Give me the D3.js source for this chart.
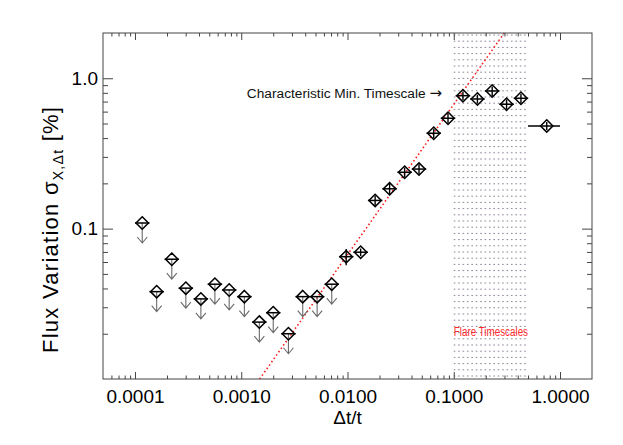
<!DOCTYPE html>
<html><head><meta charset="utf-8">
<script src="https://cdn.jsdelivr.net/npm/d3@7"></script>
<style>body{margin:0;background:#fff}text{font-family:"Liberation Sans",Arial,Helvetica,sans-serif}</style>
</head><body>
<svg id="c" width="623" height="445"></svg>
<script>
// ---- data ----
const dt = [1.17e-4,1.60e-4,2.22e-4,3.01e-4,4.17e-4,5.65e-4,7.70e-4,1.07e-3,1.48e-3,2.00e-3,2.78e-3,3.79e-3,5.18e-3,7.11e-3,
            9.72e-3,1.33e-2,1.82e-2,2.49e-2,3.45e-2,4.71e-2,6.48e-2,8.83e-2,0.122,0.167,0.230,0.314,0.429,0.75];
const sigma = [0.109,0.0381,0.0626,0.0402,0.0341,0.0427,0.0391,0.0353,0.0239,0.0276,0.0200,0.0353,0.0353,0.0427,
               0.0651,0.0697,0.154,0.184,0.237,0.249,0.431,0.542,0.766,0.728,0.823,0.672,0.736,0.482];
const sigmaErr = [0,0,0,0,0,0,0,0,0,0,0,0,0,0,
                  0.008,0.004,0.012,0.014,0.018,0.019,0.030,0.040,0.050,0.050,0.060,0.050,0.050,0.030];
const upperLimit = [1,1,1,1,1,1,1,1,1,1,1,1,1,1, 0,0,0,0,0,0,0,0,0,0,0,0,0,0];
const binFactor = 1.17;            // half-bin width (multiplicative)
const lastBin = [0.5, 1.0];         // wide final bin
const fitX = [0.00149, 0.2986];     // red dotted power-law (slope 1)
const fitY = [0.01, 2.0];
const flareRange = [0.1, 0.5];
const xTickVals = [1e-4, 1e-3, 1e-2, 1e-1, 1];
const xTickLabels = ["0.0001","0.0010","0.0100","0.1000","1.0000"];
const yTickVals = [0.1, 1.0];
const yTickLabels = ["0.1","1.0"];

// ---- layout ----
const L = 103, R = 592, T = 33, B = 379;
const svg = d3.select("#c");
const x = d3.scaleLog().domain([5e-5, 2]).range([L, R]);
const y = d3.scaleLog().domain([0.01, 2]).range([B, T]);

const xMinor = [], yMinor = [];
for (let e = -5; e <= 0; e++) for (let k = 2; k <= 9; k++) { const v = k * Math.pow(10, e); if (v > 5e-5 && v < 2) xMinor.push(v); }
for (let e = -2; e <= 0; e++) for (let k = 2; k <= 9; k++) { const v = k * Math.pow(10, e); if (v > 0.01 && v < 2) yMinor.push(v); }

svg.append("defs").append("clipPath").attr("id","clip")
  .append("rect").attr("x",L).attr("y",T).attr("width",R-L).attr("height",B-T);

// flare region hatching
const hatch = svg.append("g");
d3.range(T + 2, B, 6.2).forEach(py => {
  hatch.append("line").attr("x1", x(flareRange[0])).attr("x2", x(flareRange[1]))
    .attr("y1", py).attr("y2", py)
    .attr("stroke", "#8f8296").attr("stroke-width", 1).attr("stroke-dasharray", "1.6,2.8");
});
svg.append("text").attr("x", x(flareRange[0])).attr("y", 335.5)
  .attr("font-size", 12).attr("fill", "#ff2a2a")
  .attr("textLength", x(flareRange[1]) - x(flareRange[0])).attr("lengthAdjust","spacingAndGlyphs")
  .text("Flare Timescales");

// fit line
svg.append("line").attr("clip-path","url(#clip)")
  .attr("x1", x(fitX[0])).attr("y1", y(fitY[0])).attr("x2", x(fitX[1])).attr("y2", y(fitY[1]))
  .attr("stroke", "#ff1a1a").attr("stroke-width", 1.6).attr("stroke-dasharray", "1.5,2.6");

// axes
function styleAxis(g){ g.select(".domain").remove(); g.selectAll("line").attr("stroke","#444"); g.selectAll("text").attr("font-size",19).attr("fill","#000").style("font-family","'Liberation Sans',Arial,sans-serif"); }
svg.append("g").attr("transform",`translate(0,${B})`)
  .call(d3.axisBottom(x).tickValues(xTickVals).tickFormat((d,i)=>xTickLabels[i]).tickSizeInner(-7).tickSizeOuter(0).tickPadding(11)).call(styleAxis);
svg.append("g").attr("transform",`translate(0,${B})`)
  .call(d3.axisBottom(x).tickValues(xMinor).tickFormat("").tickSizeInner(-3.5).tickSizeOuter(0)).call(styleAxis);
svg.append("g").attr("transform",`translate(0,${T})`)
  .call(d3.axisTop(x).tickValues(xTickVals).tickFormat("").tickSizeInner(-7).tickSizeOuter(0)).call(styleAxis);
svg.append("g").attr("transform",`translate(0,${T})`)
  .call(d3.axisTop(x).tickValues(xMinor).tickFormat("").tickSizeInner(-3.5).tickSizeOuter(0)).call(styleAxis);
svg.append("g").attr("transform",`translate(${L},0)`)
  .call(d3.axisLeft(y).tickValues(yTickVals).tickFormat((d,i)=>yTickLabels[i]).tickSizeInner(-10).tickSizeOuter(0).tickPadding(5)).call(styleAxis);
svg.append("g").attr("transform",`translate(${L},0)`)
  .call(d3.axisLeft(y).tickValues(yMinor).tickFormat("").tickSizeInner(-5).tickSizeOuter(0)).call(styleAxis);
svg.append("g").attr("transform",`translate(${R},0)`)
  .call(d3.axisRight(y).tickValues(yTickVals).tickFormat("").tickSizeInner(-10).tickSizeOuter(0)).call(styleAxis);
svg.append("g").attr("transform",`translate(${R},0)`)
  .call(d3.axisRight(y).tickValues(yMinor).tickFormat("").tickSizeInner(-5).tickSizeOuter(0)).call(styleAxis);

svg.append("rect").attr("x",L).attr("y",T).attr("width",R-L).attr("height",B-T)
  .attr("fill","none").attr("stroke","#444").attr("stroke-width",1);

// data points
const pts = svg.append("g");
dt.forEach((d, i) => {
  const cx = x(d), cy = y(sigma[i]);
  const lo = i === dt.length - 1 ? lastBin[0] : d / binFactor;
  const hi = i === dt.length - 1 ? lastBin[1] : d * binFactor;
  if (upperLimit[i]) {
    const tip = cy + 20;
    pts.append("path").attr("d", `M${cx},${cy}L${cx},${tip}M${cx-5},${tip-6}L${cx},${tip}L${cx+5},${tip-6}`)
      .attr("fill","none").attr("stroke","#6a6a6a").attr("stroke-width",1.1);
  } else if (sigmaErr[i] > 0) {
    pts.append("line").attr("x1",cx).attr("x2",cx)
      .attr("y1", y(sigma[i] - sigmaErr[i])).attr("y2", y(sigma[i] + sigmaErr[i]))
      .attr("stroke","#000").attr("stroke-width",1.4);
  }
  pts.append("line").attr("x1", x(lo)).attr("x2", x(hi)).attr("y1", cy).attr("y2", cy)
    .attr("stroke","#000").attr("stroke-width",1.5);
  const s = 6.2;
  pts.append("path").attr("d", `M${cx},${cy-s}L${cx+s},${cy}L${cx},${cy+s}L${cx-s},${cy}Z`)
    .attr("fill","none").attr("stroke","#000").attr("stroke-width",1.5);
});

// annotation
const ann = svg.append("text").attr("x", 442).attr("y", 97.5).attr("text-anchor","end")
  .attr("font-size", 13.7).attr("fill","#111");
ann.append("tspan").text("Characteristic Min. Timescale ");
ann.append("tspan").style("font-family","'DejaVu Sans',sans-serif").attr("font-size",15).text("\u2192");

// axis titles
svg.append("text").attr("x", (L + R) / 2).attr("y", 424).attr("text-anchor","middle")
  .attr("font-size", 19).text("\u0394t/t");
const yt = svg.append("text").attr("transform", `translate(58,230) rotate(-90)`)
  .attr("text-anchor","middle").attr("font-size", 22)
  .attr("textLength", 246).attr("lengthAdjust","spacing");
yt.append("tspan").text("Flux Variation \u03c3");
yt.append("tspan").attr("font-size", 14).attr("dy", 5).text("X,\u0394t");
yt.append("tspan").attr("dy", -5).text(" [%]");
</script></body></html>
